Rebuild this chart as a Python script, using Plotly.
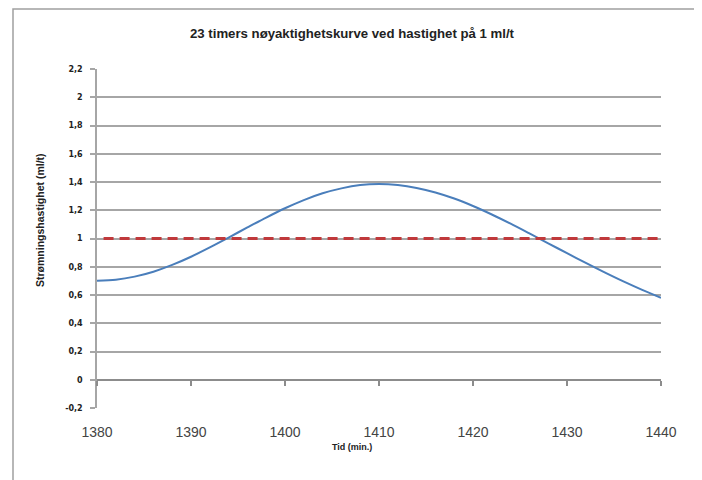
import plotly.graph_objects as go

# Data
time_min = [1380, 1382, 1384, 1386, 1388, 1390, 1392, 1394, 1396, 1398, 1400,
            1402, 1404, 1406, 1408, 1410, 1412, 1414, 1416, 1418, 1420,
            1422, 1424, 1426, 1428, 1430, 1432, 1434, 1436, 1438, 1440]
flow_rate = [0.700, 0.708, 0.730, 0.765, 0.813, 0.871, 0.937, 1.007, 1.078, 1.148, 1.214,
             1.272, 1.320, 1.355, 1.378, 1.385, 1.378, 1.358, 1.326, 1.283, 1.230,
             1.170, 1.105, 1.036, 0.966, 0.896, 0.827, 0.760, 0.696, 0.636, 0.580]
ref_time = [1380.7, 1440.2]
ref_rate = [1.0, 1.0]

x_ticks = [1380, 1390, 1400, 1410, 1420, 1430, 1440]
y_ticks = [-0.2, 0, 0.2, 0.4, 0.6, 0.8, 1.0, 1.2, 1.4, 1.6, 1.8, 2.0, 2.2]
y_labels = ["-0,2", "0", "0,2", "0,4", "0,6", "0,8", "1", "1,2", "1,4", "1,6", "1,8", "2", "2,2"]

title_text = "23 timers nøyaktighetskurve ved hastighet på 1 ml/t"
x_title = "Tid (min.)"
y_title = "Strømningshastighet (ml/t)"

# page body has an 8px margin, so the figure is drawn 8px smaller and offset
OFF = 8
W, H = 702 - OFF, 480 - OFF
L, T = 97 - OFF, 69 - OFF
R = W - (661 - OFF)
B = H - (408 - OFF)
pw, ph = W - L - R, H - T - B
y_min, y_max = -0.2, 2.2


def px_x(sx):
    return (sx - OFF - L) / pw


def px_y(sy):
    return (H - B - (sy - OFF)) / ph


fig = go.Figure()
fig.add_trace(go.Scatter(x=time_min, y=flow_rate, mode="lines",
                         line=dict(color="#4a7ebb", width=2, shape="spline", smoothing=0.8),
                         hoverinfo="skip", showlegend=False))
fig.add_trace(go.Scatter(x=ref_time, y=ref_rate, mode="lines",
                         line=dict(color="#c0393b", width=3, dash="10px,6px"),
                         hoverinfo="skip", showlegend=False))
# invisible trace for the overlay axis at y = 0
fig.add_trace(go.Scatter(x=[x_ticks[0], x_ticks[-1]], y=[0, 0], mode="lines",
                         line=dict(width=0), opacity=0, xaxis="x2",
                         hoverinfo="skip", showlegend=False))

font_main = "Liberation Sans, Arial, sans-serif"
fig.update_layout(
    width=W, height=H,
    margin=dict(l=L, r=R, t=T, b=B),
    paper_bgcolor="white", plot_bgcolor="white",
    font=dict(family=font_main, color="#222222"),
    xaxis=dict(range=[x_ticks[0], x_ticks[-1]], tickvals=x_ticks,
               ticktext=[str(v) for v in x_ticks],
               showgrid=False, zeroline=False, showline=False, ticks="",
               ticklabelstandoff=14,
               tickfont=dict(size=14, color="#444444", family=font_main)),
    xaxis2=dict(range=[x_ticks[0], x_ticks[-1]], overlaying="x", anchor="free",
                position=(0 - y_min) / (y_max - y_min), side="bottom",
                tickvals=x_ticks, showticklabels=False, ticks="outside",
                ticklen=5, tickcolor="#8c8c8c", tickwidth=1.5,
                showline=True, linecolor="#8c8c8c", linewidth=1.5,
                showgrid=False, zeroline=False),
    yaxis=dict(range=[y_min, y_max], tickvals=y_ticks,
               ticktext=["<b>" + t + "</b>" for t in y_labels],
               showgrid=True, gridcolor="#a6a6a6", gridwidth=1.5,
               zeroline=False, showline=True, linecolor="#a6a6a6", linewidth=1.5,
               ticks="outside", ticklen=5, tickcolor="#a6a6a6", tickwidth=1.5,
               ticklabelstandoff=6,
               tickfont=dict(size=8, color="#222222", family="DejaVu Sans")),
    shapes=[dict(type="rect", xref="paper", yref="paper",
                 x0=px_x(13), x1=px_x(697), y0=px_y(495), y1=px_y(9),
                 line=dict(color="#a0a0a0", width=1.5), fillcolor="rgba(0,0,0,0)",
                 layer="below")],
    annotations=[
        dict(text="<b>" + title_text + "</b>", xref="paper", yref="paper",
             x=px_x(352), y=px_y(34), xanchor="center", yanchor="middle",
             showarrow=False, font=dict(size=13.2, color="#222222", family=font_main)),
        dict(text="<b>" + x_title + "</b>", xref="paper", yref="paper",
             x=px_x(352), y=px_y(447), xanchor="center", yanchor="middle",
             showarrow=False, font=dict(size=9, color="#222222", family=font_main)),
        dict(text="<b>" + y_title + "</b>", xref="paper", yref="paper",
             x=px_x(40), y=px_y(220), xanchor="center", yanchor="middle",
             textangle=-90, showarrow=False,
             font=dict(size=10.5, color="#222222", family=font_main)),
    ],
)

fig.write_html("out.html")
